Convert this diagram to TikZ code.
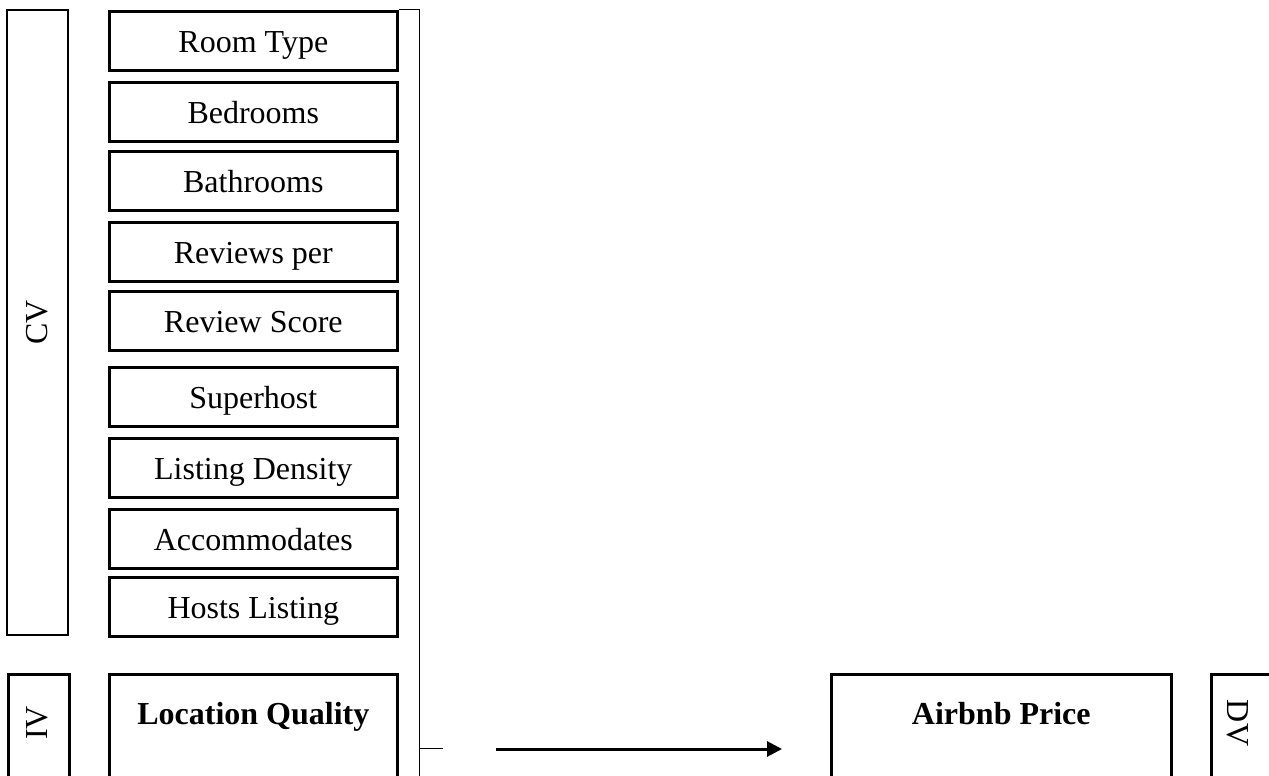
\documentclass[tikz,border=0pt]{standalone}
\usepackage{fontspec}
\setmainfont{Liberation Serif}
\usetikzlibrary{arrows.meta,positioning}

\tikzset{
  var/.style={draw,line width=2.6pt,inner sep=0pt,anchor=north west,
    minimum width=288pt,text height=41pt,text depth=18pt,
    font=\fontsize{32}{38}\selectfont},
  main/.style={draw,line width=2.6pt,inner sep=0pt,anchor=north west,
    text height=50pt,text depth=70pt,font=\fontsize{32}{38}\selectfont\bfseries},
  side/.style={draw,line width=2.6pt,inner sep=0pt,anchor=north west,
    minimum width=61pt,minimum height=130pt},
  tag/.style={font=\fontsize{32}{38}\selectfont,inner sep=0pt},
  bracket/.style={line width=1pt}
}

\begin{document}
\begin{tikzpicture}[x=1pt,y=-1pt]
   \clip (0,0) rectangle (1269,776);
   % control variables
   \node[draw,line width=2.6pt,rotate=90,minimum width=625pt,minimum height=61pt,
     inner sep=0pt,font=\fontsize{32}{38}\selectfont] (cv) at (37.5,322.5) {CV};
   \node[var] (rt)   at (108,10)  {Room Type};
   \node[var] (bed)  at (108,81)  {Bedrooms};
   \node[var] (bath) at (108,150) {Bathrooms};
   \node[var] (rpm)  at (108,221) {Reviews per};
   \node[var] (rs)   at (108,290) {Review Score};
   \node[var] (sh)   at (108,366) {Superhost};
   \node[var] (ld)   at (108,437) {Listing Density};
   \node[var] (acc)  at (108,508) {Accommodates};
   \node[var] (hl)   at (108,576) {Hosts Listing};
   % independent and dependent variable
   \node[side] (iv) at (7,673) {};
   \node[tag,rotate=90] (iv_t) at (37.5,723) {IV};
   \node[main,minimum width=288pt] (lq) at (108,673) {Location Quality};
   \node[main,minimum width=340pt] (ap) at (830,673) {Airbnb Price};
   \node[side] (dv) at (1210,673) {};
   \node[tag,rotate=-90] (dv_t) at (1238,723) {DV};
   % bracket and arrow
   \coordinate (b_top) at (419,10);
   \coordinate (b_end) at (419,790);
   \coordinate (tick) at (419,748);
   \coordinate (from) at (496,749);
   \coordinate (to) at (782,749);
   \draw[bracket] (rt.north east) -- (b_top) -- (b_end);
   \draw[bracket] (tick) -- ++(24,0);
   \draw[line width=3pt,-{Triangle[length=15pt,width=15pt]}] (from) -- (to);
\end{tikzpicture}
\end{document}
